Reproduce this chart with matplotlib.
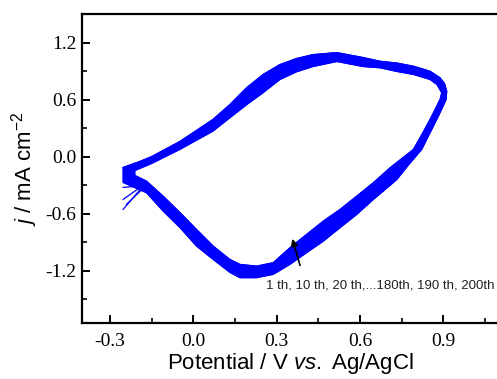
import numpy as np
import matplotlib
matplotlib.use("Agg")
import matplotlib.pyplot as plt
from matplotlib.path import Path
from matplotlib.patches import PathPatch

plt.rcParams['mathtext.fontset'] = 'custom'
plt.rcParams['mathtext.rm'] = 'Liberation Sans'
plt.rcParams['mathtext.it'] = 'Liberation Sans:italic'

# CV band (cycles 1..200 overlap), potential in V, j in mA cm-2
# outer edge of the loop: top of anodic branch, then outside of cathodic branch
outer_v = [-0.252, -0.192, -0.149, -0.048, 0.071, 0.132, 0.193, 0.251, 0.312,
           0.372, 0.431, 0.517, 0.611, 0.672, 0.733, 0.792, 0.852, 0.888,
           0.904, 0.912, 0.910, 0.882, 0.852, 0.822, 0.773, 0.733, 0.708,
           0.648, 0.588, 0.528, 0.468, 0.408, 0.348, 0.288, 0.228, 0.168,
           0.132, 0.072, 0.012, -0.048, -0.108, -0.168, -0.252]
outer_j = [-0.112, -0.049, 0.003, 0.161, 0.392, 0.549, 0.728, 0.864, 0.969,
           1.033, 1.074, 1.095, 1.043, 1.004, 0.985, 0.952, 0.899, 0.830,
           0.770, 0.689, 0.602, 0.426, 0.252, 0.077, -0.091, -0.238, -0.301,
           -0.449, -0.607, -0.746, -0.887, -1.008, -1.131, -1.236, -1.271, -1.271,
           -1.215, -1.079, -0.939, -0.743, -0.571, -0.378, -0.270]
# inner edge of the loop
inner_v = [-0.210, -0.192, -0.149, -0.048, 0.071, 0.132, 0.193, 0.251, 0.312,
           0.372, 0.431, 0.517, 0.611, 0.672, 0.733, 0.792, 0.852, 0.877,
           0.894, 0.888, 0.858, 0.826, 0.792, 0.708, 0.648, 0.588, 0.528,
           0.468, 0.408, 0.348, 0.288, 0.228, 0.168, 0.132, 0.072, 0.012,
           -0.048, -0.108, -0.168, -0.210]
inner_j = [-0.144, -0.123, -0.070, 0.077, 0.269, 0.410, 0.549, 0.672, 0.812,
           0.893, 0.948, 1.001, 0.948, 0.935, 0.896, 0.865, 0.812, 0.759,
           0.672, 0.602, 0.426, 0.252, 0.077, -0.116, -0.273, -0.414, -0.554,
           -0.676, -0.816, -0.956, -1.113, -1.149, -1.131, -1.079, -0.939, -0.764,
           -0.585, -0.414, -0.256, -0.196]

# start segments of some cycles at the negative vertex
tails_v = [[-0.192, -0.252], [-0.180, -0.252], [-0.175, -0.252], [-0.165, -0.240]]
tails_j = [[-0.309, -0.322], [-0.300, -0.448], [-0.290, -0.553], [-0.290, -0.500]]

arrow_from = (0.387, -1.170)
arrow_to = (0.354, -0.834)
note = "1 th, 10 th, 20 th,...180th, 190 th, 200th"

xticks = [-0.3, 0.0, 0.3, 0.6, 0.9]
yticks = [-1.2, -0.6, 0.0, 0.6, 1.2]

blue = '#0000ff'

fig = plt.figure(figsize=(4.97, 3.79), dpi=100)
ax = fig.add_axes([0.165, 0.147, 0.839, 0.816])

outer = np.column_stack([outer_v, outer_j])
inner = np.column_stack([inner_v, inner_j])[::-1]
verts = np.vstack([outer, outer[:1], inner, inner[:1]])
codes = ([Path.MOVETO] + [Path.LINETO] * (len(outer) - 1) + [Path.CLOSEPOLY] +
         [Path.MOVETO] + [Path.LINETO] * (len(inner) - 1) + [Path.CLOSEPOLY])
ax.add_patch(PathPatch(Path(verts, codes), facecolor=blue, edgecolor=blue, lw=0.8))
ax.plot(outer_v + outer_v[:1], outer_j + outer_j[:1], color=blue, lw=0.8)
ax.plot(inner_v + inner_v[:1], inner_j + inner_j[:1], color=blue, lw=0.8)

for tv, tj in zip(tails_v, tails_j):
    ax.plot(tv, tj, color=blue, lw=0.9)

ax.annotate('', xy=arrow_to, xytext=arrow_from,
            arrowprops=dict(arrowstyle='-|>', color='black', lw=1.2, mutation_scale=10))
ax.text(0.674, -1.352, note, ha='center', va='center', fontsize=9.5,
        family='Liberation Sans', color='#222222')

ax.set_xlim(-0.4, 1.1)
ax.set_ylim(-1.75, 1.5)
ax.set_xticks(xticks)
ax.set_yticks(yticks)
ax.set_xticklabels([f"{v:.1f}" for v in xticks], family='Liberation Serif', fontsize=14)
ax.set_yticklabels([f"{v:.1f}" for v in yticks], family='Liberation Serif', fontsize=14)
ax.set_xticks([-0.15, 0.15, 0.45, 0.75, 1.05], minor=True)
ax.set_yticks([-1.5, -0.9, -0.3, 0.3, 0.9], minor=True)
ax.tick_params(which='major', direction='in', length=6, width=1.4, pad=7)
ax.tick_params(which='minor', direction='in', length=3.5, width=1.2)
ax.tick_params(axis='y', pad=4)
for s in ax.spines.values():
    s.set_linewidth(1.6)

ax.set_xlabel(r'Potential / V $vs.$ Ag/AgCl', family='Liberation Sans', fontsize=16, labelpad=1)
ax.set_ylabel(r'$j$ / mA cm$^{-2}$', family='Liberation Sans', fontsize=16, labelpad=4)

fig.savefig('out.png', dpi=100)
